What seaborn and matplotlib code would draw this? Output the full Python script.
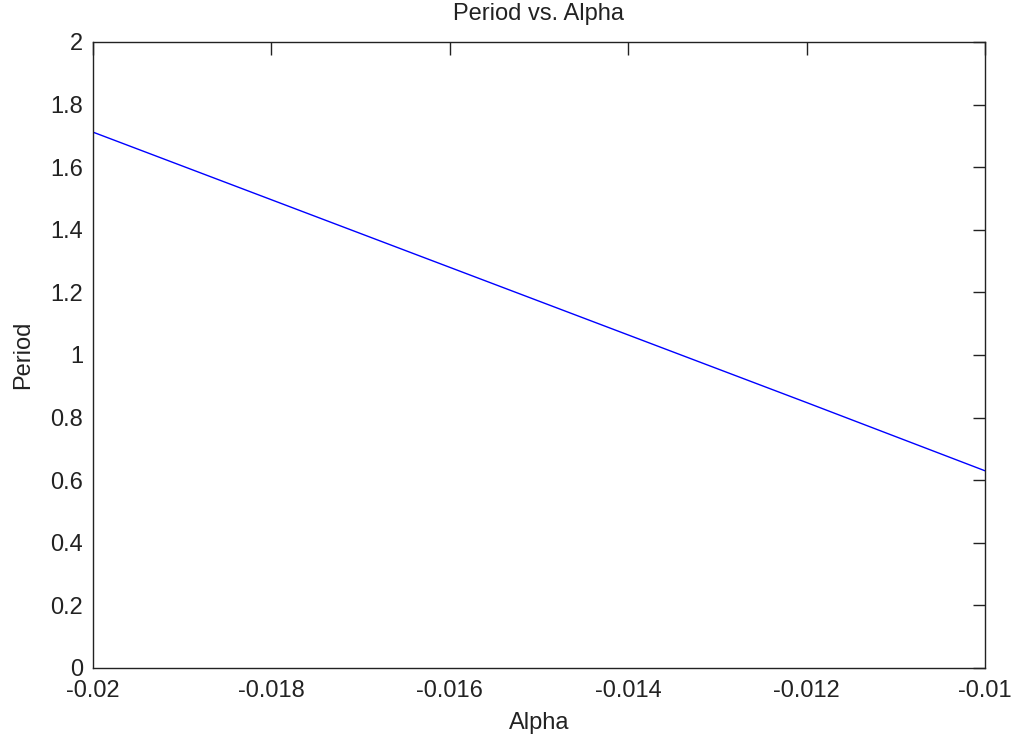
import matplotlib
matplotlib.use("Agg")
import matplotlib.pyplot as plt
import seaborn as sns
import pandas as pd

# Period as a function of the damping coefficient alpha
alpha = [-0.020, -0.018, -0.016, -0.014, -0.012, -0.010]
period = [1.712, 1.496, 1.280, 1.064, 0.848, 0.630]

x_ticks = [-0.020, -0.018, -0.016, -0.014, -0.012, -0.010]
x_tick_labels = ["-0.02", "-0.018", "-0.016", "-0.014", "-0.012", "-0.01"]
y_ticks = [0, 0.2, 0.4, 0.6, 0.8, 1.0, 1.2, 1.4, 1.6, 1.8, 2.0]
y_tick_labels = ["0", "0.2", "0.4", "0.6", "0.8", "1", "1.2", "1.4", "1.6", "1.8", "2"]

df = pd.DataFrame({"Alpha": alpha, "Period": period})

sns.set_style("white")
plt.rcParams["font.family"] = ["Liberation Sans", "DejaVu Sans"]

FS = 17
INK = "#222222"

fig = plt.figure(figsize=(10.14, 7.38), dpi=100)
ax = fig.add_axes([0.0917, 0.0949, 0.8797, 0.8482])

sns.lineplot(data=df, x="Alpha", y="Period", ax=ax, color="#0000ff", linewidth=1.0)

ax.set_xlim(-0.020, -0.010)
ax.set_ylim(0, 2)
ax.set_xticks(x_ticks)
ax.set_xticklabels(x_tick_labels)
ax.set_yticks(y_ticks)
ax.set_yticklabels(y_tick_labels)

ax.tick_params(direction="in", length=9, width=1, colors=INK,
               labelsize=FS, top=True, right=True)
ax.tick_params(axis="x", pad=9)
ax.tick_params(axis="y", pad=7)
for spine in ax.spines.values():
    spine.set_visible(True)
    spine.set_color(INK)
    spine.set_linewidth(1)

ax.set_title("Period vs. Alpha", fontsize=FS, color=INK, pad=16)
ax.set_xlabel("Alpha", fontsize=FS, color=INK, labelpad=7)
ax.set_ylabel("Period", fontsize=FS, color=INK, labelpad=12)

fig.savefig("out.png", dpi=100, facecolor="white")
